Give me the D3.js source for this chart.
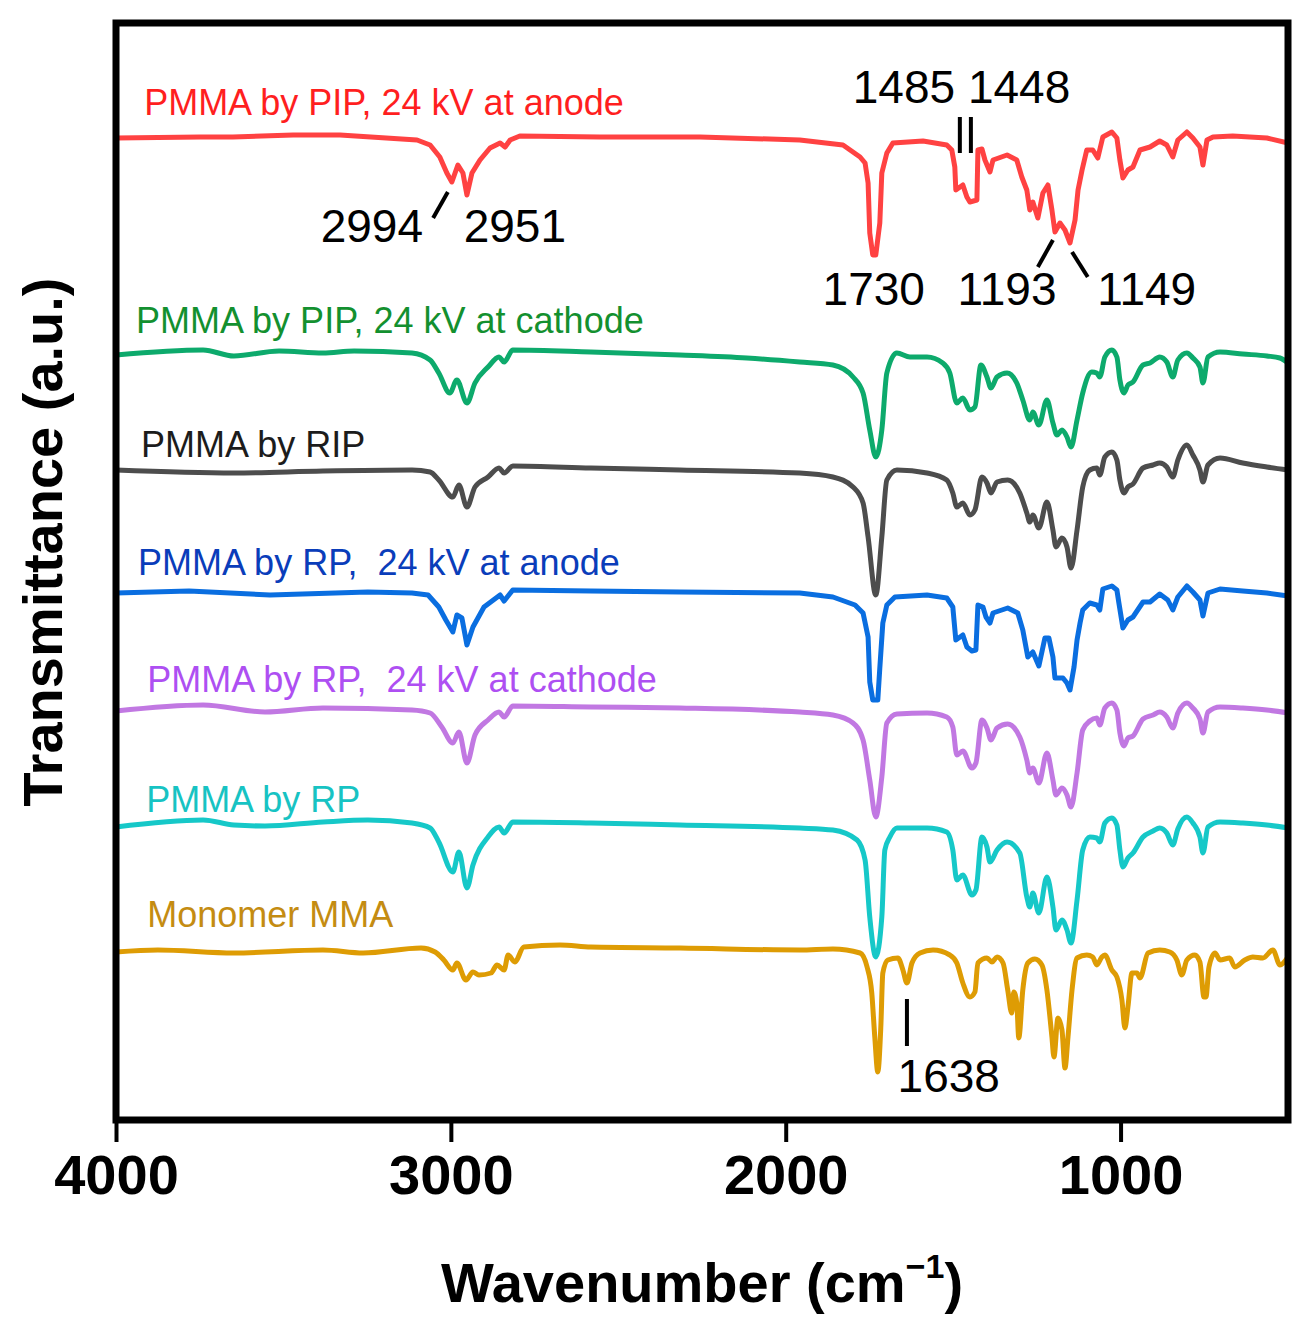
<!DOCTYPE html>
<html>
<head>
<meta charset="utf-8">
<script src="https://cdn.jsdelivr.net/npm/d3@7"></script>
<style>
  body { margin: 0; background: #fff; }
  svg { display: block; font-family: "Liberation Sans", Arial, sans-serif; }
</style>
</head>
<body>
<svg id="drawing_region"></svg>
<script>
// series names, top to bottom
const seriesLabels = [
    "PMMA by PIP, 24 kV at anode",
    "PMMA by PIP, 24 kV at cathode",
    "PMMA by RIP",
    "PMMA by RP,  24 kV at anode",
    "PMMA by RP,  24 kV at cathode",
    "PMMA by RP",
    "Monomer MMA"
];

// [wavenumber (cm-1), transmittance (a.u., offset per curve)]
const pipAnode = [[4000,98.2],[3749,98.3],[3651,98.3],[3471,98.5],[3331,98.5],[3101,98.0],[3062,97.5],[3033,96.3],[3012,94.7],[2997,93.8],[2979,95.5],[2964,94.7],[2952,92.5],[2937,94.7],[2913,96.0],[2883,97.2],[2853,97.7],[2838,97.3],[2823,98.0],[2794,98.4],[2555,98.3],[2256,98.3],[1958,98.0],[1829,97.5],[1778,96.3],[1763,95.7],[1754,93.7],[1749,88.7],[1740,86.5],[1731,86.5],[1719,89.7],[1713,94.7],[1698,96.7],[1680,97.7],[1590,97.9],[1519,97.5],[1504,97.0],[1495,95.3],[1492,93.0],[1471,93.5],[1459,92.3],[1450,91.8],[1429,92.0],[1426,97.0],[1414,97.1],[1405,96.0],[1390,94.8],[1381,96.0],[1339,96.5],[1310,96.0],[1295,94.3],[1280,93.0],[1271,91.0],[1262,91.8],[1247,90.2],[1232,92.7],[1217,93.5],[1205,91.0],[1196,88.8],[1181,89.7],[1166,89.0],[1151,87.7],[1136,90.0],[1127,93.0],[1115,95.0],[1101,97.0],[1083,97.0],[1068,96.2],[1053,98.3],[1026,98.8],[1011,98.2],[1002,96.0],[993,94.2],[978,95.0],[963,95.3],[942,97.0],[912,97.3],[883,97.9],[862,97.5],[844,96.3],[829,98.0],[802,98.8],[784,98.2],[763,97.3],[754,95.5],[742,98.0],[724,98.3],[665,98.4],[563,98.2],[500,97.7]];

const pipCathode = [[4000,76.5],[3740,77.0],[3648,76.4],[3513,76.9],[3382,76.7],[3289,76.9],[3116,76.7],[3062,76.0],[3036,74.7],[3003,72.7],[2982,74.0],[2952,71.7],[2928,73.7],[2889,75.3],[2856,76.3],[2841,75.8],[2815,77.0],[2582,76.8],[2316,76.5],[2116,76.2],[1958,75.8],[1859,75.5],[1799,74.3],[1769,72.7],[1749,69.0],[1731,66.3],[1713,69.0],[1698,74.7],[1668,76.7],[1629,76.3],[1578,76.3],[1531,75.7],[1510,74.7],[1489,71.7],[1471,72.2],[1450,71.0],[1435,71.3],[1417,75.5],[1399,74.3],[1387,73.2],[1369,74.3],[1339,74.7],[1310,73.7],[1292,72.0],[1271,70.0],[1262,70.8],[1244,69.5],[1220,72.0],[1202,69.7],[1190,68.5],[1175,69.0],[1160,68.3],[1148,67.3],[1130,70.0],[1113,72.7],[1086,74.8],[1071,74.7],[1062,74.3],[1047,76.3],[1026,77.0],[1011,76.3],[1002,74.0],[990,72.7],[978,73.5],[963,73.8],[933,75.5],[912,75.7],[883,76.3],[862,75.8],[844,74.3],[829,76.0],[802,76.7],[784,76.2],[763,75.3],[754,73.7],[739,76.3],[703,76.8],[635,76.6],[563,76.4],[524,76.2],[500,75.7]];

const rip = [[4000,65.0],[3648,64.7],[3382,64.9],[3116,65.0],[3062,64.8],[3036,64.0],[2994,62.3],[2976,63.5],[2952,61.3],[2928,63.3],[2889,64.3],[2856,65.2],[2841,64.7],[2815,65.4],[2582,65.2],[2316,65.0],[1958,64.7],[1859,64.3],[1799,63.3],[1769,61.7],[1754,58.3],[1731,52.5],[1713,58.3],[1698,64.0],[1668,65.0],[1578,64.7],[1519,64.0],[1501,62.7],[1489,61.3],[1471,61.7],[1450,60.5],[1435,61.0],[1414,64.3],[1399,63.7],[1387,62.7],[1369,63.8],[1337,64.0],[1301,62.7],[1280,60.7],[1271,59.8],[1262,60.5],[1244,59.2],[1220,61.8],[1202,59.0],[1193,57.3],[1175,58.2],[1160,57.3],[1148,55.2],[1130,59.0],[1113,63.3],[1092,65.0],[1071,65.2],[1062,64.5],[1047,66.3],[1026,66.8],[1011,66.0],[1002,64.0],[990,62.7],[978,63.3],[963,63.6],[933,65.2],[903,65.5],[883,65.7],[862,65.3],[844,64.3],[829,66.0],[802,67.5],[784,66.5],[763,65.0],[754,63.8],[739,65.5],[703,66.2],[635,65.7],[563,65.3],[500,65.0]];

const rpAnode = [[4000,52.7],[3782,52.9],[3540,52.5],[3248,52.8],[3116,52.7],[3068,52.5],[3036,51.3],[3015,50.0],[2994,48.8],[2982,50.5],[2967,50.2],[2952,47.5],[2934,49.3],[2901,51.3],[2853,52.5],[2841,51.9],[2815,53.0],[2582,52.9],[2316,52.8],[1958,52.7],[1859,52.3],[1793,51.5],[1769,50.7],[1754,48.3],[1749,43.8],[1740,42.0],[1725,42.0],[1719,45.2],[1710,49.7],[1698,51.5],[1674,52.3],[1578,52.5],[1519,52.2],[1501,51.3],[1492,48.0],[1471,48.5],[1459,47.3],[1444,46.9],[1432,47.0],[1426,51.5],[1411,51.3],[1402,50.3],[1390,49.7],[1381,50.7],[1337,51.2],[1307,50.7],[1292,49.0],[1277,46.3],[1262,46.8],[1244,45.4],[1226,48.2],[1214,48.2],[1202,46.3],[1196,44.2],[1172,44.2],[1160,43.7],[1151,43.0],[1139,45.3],[1130,48.0],[1121,49.7],[1113,51.0],[1092,51.7],[1071,51.5],[1062,51.0],[1053,53.1],[1026,53.4],[1011,53.0],[1005,51.7],[993,49.2],[978,50.0],[963,50.3],[933,51.8],[912,51.8],[883,52.6],[859,52.0],[844,51.0],[829,52.3],[802,53.4],[784,52.8],[763,52.0],[754,50.4],[739,52.7],[703,53.1],[635,52.9],[563,52.7],[500,52.4]];

const rpCathode = [[4000,40.9],[3740,41.5],[3555,40.8],[3382,41.2],[3116,41.0],[3062,40.7],[3027,39.3],[2994,37.7],[2976,38.8],[2952,35.7],[2928,38.5],[2889,40.0],[2856,40.8],[2841,40.3],[2815,41.4],[2582,41.3],[2316,41.2],[1958,40.8],[1859,40.5],[1799,39.7],[1769,38.0],[1749,34.0],[1731,30.3],[1713,34.3],[1698,39.7],[1668,40.6],[1578,40.7],[1519,40.3],[1501,39.3],[1489,36.5],[1471,36.9],[1444,35.2],[1432,35.7],[1414,40.0],[1399,39.2],[1387,38.0],[1369,39.2],[1337,39.6],[1301,38.3],[1280,36.0],[1271,34.7],[1262,35.2],[1244,33.7],[1220,36.7],[1202,34.0],[1193,32.5],[1175,33.2],[1160,32.5],[1148,31.3],[1130,34.7],[1113,39.0],[1092,39.9],[1071,40.2],[1062,39.5],[1047,41.2],[1026,41.7],[1011,41.0],[1002,38.7],[990,37.4],[978,38.2],[963,38.4],[933,40.1],[903,40.5],[883,40.8],[862,40.3],[844,39.2],[829,40.7],[802,41.7],[784,41.2],[763,40.1],[754,38.7],[739,40.8],[703,41.3],[635,41.2],[563,41.0],[500,40.7]];

const rp = [[4000,29.3],[3740,30.0],[3648,29.5],[3555,29.4],[3382,29.8],[3248,30.0],[3116,29.7],[3062,29.2],[3036,27.8],[2994,24.8],[2976,26.8],[2952,23.2],[2934,25.5],[2889,28.3],[2856,29.3],[2841,28.7],[2815,29.8],[2582,29.7],[2316,29.5],[1958,29.2],[1859,29.0],[1787,28.0],[1763,26.0],[1749,20.3],[1731,16.3],[1713,20.3],[1704,27.0],[1689,28.3],[1668,29.2],[1578,29.2],[1519,28.8],[1501,27.0],[1489,24.0],[1471,24.5],[1444,22.5],[1432,23.0],[1414,28.3],[1399,27.3],[1390,25.8],[1369,27.0],[1339,27.8],[1301,26.7],[1280,22.3],[1271,21.3],[1262,22.7],[1244,20.7],[1220,24.3],[1202,21.3],[1193,19.0],[1175,20.0],[1160,19.0],[1148,17.7],[1130,22.0],[1113,27.0],[1092,28.3],[1071,28.2],[1062,27.8],[1047,29.7],[1026,30.2],[1011,29.5],[1002,27.0],[993,25.3],[978,26.2],[963,26.7],[933,28.3],[903,28.9],[883,29.2],[862,28.7],[844,27.5],[829,29.1],[802,30.3],[784,29.7],[763,28.3],[754,26.7],[739,29.3],[703,29.8],[635,29.7],[563,29.5],[500,29.2]];

const monomer = [[4000,16.8],[3875,17.0],[3648,16.7],[3382,17.0],[3262,16.7],[3089,17.2],[3047,16.8],[3021,16.0],[2994,15.0],[2982,15.7],[2955,14.0],[2934,14.8],[2916,14.5],[2880,14.7],[2862,15.5],[2841,15.0],[2829,16.5],[2809,15.8],[2782,17.3],[2674,17.5],[2582,17.3],[2316,17.2],[1958,17.0],[1859,17.1],[1778,16.7],[1757,15.3],[1743,12.7],[1734,8.3],[1725,4.8],[1716,9.3],[1710,14.7],[1695,16.0],[1665,16.2],[1650,15.0],[1638,13.7],[1623,15.7],[1599,16.7],[1560,17.0],[1510,16.5],[1489,15.7],[1471,13.7],[1450,12.3],[1435,12.8],[1426,15.7],[1399,16.2],[1384,15.8],[1369,16.3],[1351,15.7],[1337,13.0],[1325,10.7],[1319,12.8],[1310,11.7],[1304,8.2],[1292,13.0],[1277,15.7],[1256,16.1],[1235,15.5],[1220,13.0],[1205,8.3],[1199,6.3],[1187,10.2],[1175,9.0],[1166,5.2],[1157,8.3],[1145,13.0],[1130,16.2],[1101,16.5],[1083,16.3],[1071,15.5],[1056,16.3],[1047,16.5],[1026,15.0],[1011,14.3],[996,12.0],[987,9.2],[978,11.3],[966,14.7],[951,14.7],[942,14.2],[918,16.7],[883,17.0],[853,16.8],[832,16.0],[817,14.5],[802,16.0],[778,16.5],[763,15.8],[751,12.3],[745,12.3],[736,15.3],[718,16.7],[703,16.0],[674,16.2],[659,15.3],[629,16.0],[605,16.3],[575,16.2],[545,17.0],[524,15.5],[500,16.3]];

const xTicks = [4000, 3000, 2000, 1000];

// peak labels: text, wavenumber and level of the label baseline
const peakTexts = ["2994", "2951", "1730", "1485 1448", "1193", "1149", "1638"];
const peakTextWn = [3236, 2809, 1737, 1475, 1339, 922, 1513];
const peakTextT = [87.8, 87.8, 81.5, 101.7, 81.5, 81.5, 2.8];

// leader lines [[wn, t], [wn, t]]
const peakMarks = [
    [[3009, 92.8], [3053, 90.2]],
    [[1480, 100.3], [1480, 96.7]],
    [[1447, 100.3], [1447, 96.7]],
    [[1202, 88.0], [1247, 85.3]],
    [[1145, 86.8], [1098, 84.3]],
    [[1638, 12.1], [1638, 7.4]]
];

const allSeries = [pipAnode, pipCathode, rip, rpAnode, rpCathode, rp, monomer];

var config = {
    parent: '#drawing_region',
    width: 1316,
    height: 1342,
    margin: {left: 116, right: 28, top: 23, bottom: 222},
    lineColors: ['#ff4242', '#0daa6c', '#4d4d4d', '#0a6ee0', '#c178e2', '#16c8c8', '#de9c04'],
    labelColors: ['#ff1f1f', '#13902f', '#1c1c1c', '#0a3dba', '#ae4ff2', '#17c3c3', '#c48c12'],
    jagged: [true, false, false, true, false, false, false],
    labelWn: [3916, 3940, 3925, 3934, 3907, 3910, 3907],
    labelT: [100.5, 78.7, 66.3, 54.5, 42.8, 30.8, 19.3]
};

class SpectraChart {

    constructor( config ) {
        this.config = config;
        this.init();
    }

    init() {
        let self = this;
        let m = self.config.margin;

        self.svg = d3.select( self.config.parent )
            .attr('width', self.config.width)
            .attr('height', self.config.height);

        self.inner_width = self.config.width - m.left - m.right;
        self.inner_height = self.config.height - m.top - m.bottom;

        self.xscale = d3.scaleLinear()
            .domain([4000, 500])
            .range([m.left, m.left + self.inner_width]);

        self.yscale = d3.scaleLinear()
            .domain([0, 109.7])
            .range([m.top + self.inner_height, m.top]);

        self.xaxis = d3.axisBottom( self.xscale )
            .tickValues(xTicks)
            .tickSize(22)
            .tickSizeOuter(0)
            .tickPadding(12)
            .tickFormat(d3.format('d'));
    }

    update() {
        let self = this;
        self.render();
    }

    render() {
        let self = this;
        let m = self.config.margin;

        // spectra
        allSeries.forEach( (data, i) => {
            let line = d3.line()
                .x( d => self.xscale(d[0]) )
                .y( d => self.yscale(d[1]) )
                .curve( self.config.jagged[i] ? d3.curveLinear : d3.curveMonotoneX );

            self.svg.append('path')
                .datum(data)
                .attr('d', line)
                .attr('fill', 'none')
                .attr('stroke', self.config.lineColors[i])
                .attr('stroke-width', 5)
                .attr('stroke-linejoin', 'round');

            self.svg.append('text')
                .attr('x', self.xscale(self.config.labelWn[i]))
                .attr('y', self.yscale(self.config.labelT[i]))
                .attr('fill', self.config.labelColors[i])
                .attr('font-size', 36)
                .style('white-space', 'pre')
                .text(seriesLabels[i]);
        });

        // peak annotations
        self.svg.selectAll('.mark')
            .data(peakMarks)
            .enter()
            .append('line')
            .attr('x1', d => self.xscale(d[0][0]))
            .attr('y1', d => self.yscale(d[0][1]))
            .attr('x2', d => self.xscale(d[1][0]))
            .attr('y2', d => self.yscale(d[1][1]))
            .attr('stroke', 'black')
            .attr('stroke-width', 4);

        self.svg.selectAll('.peak')
            .data(peakTexts)
            .enter()
            .append('text')
            .attr('x', (d, i) => self.xscale(peakTextWn[i]))
            .attr('y', (d, i) => self.yscale(peakTextT[i]))
            .attr('text-anchor', 'middle')
            .attr('font-size', 46)
            .attr('fill', 'black')
            .text(d => d);

        // frame
        self.svg.append('rect')
            .attr('x', m.left)
            .attr('y', m.top)
            .attr('width', self.inner_width)
            .attr('height', self.inner_height)
            .attr('fill', 'none')
            .attr('stroke', 'black')
            .attr('stroke-width', 7);

        let xg = self.svg.append('g')
            .attr('transform', `translate(0, ${m.top + self.inner_height})`)
            .call(self.xaxis);
        xg.select('.domain').remove();
        xg.selectAll('.tick line')
            .attr('stroke', 'black')
            .attr('stroke-width', 4);
        xg.selectAll('.tick text')
            .attr('fill', 'black')
            .attr('font-size', 56)
            .attr('font-weight', 'bold')
            .attr('font-family', '"Liberation Sans", Arial, sans-serif');

        // axis titles
        let xt = self.svg.append('text')
            .attr('x', m.left + self.inner_width / 2)
            .attr('y', 1302)
            .attr('text-anchor', 'middle')
            .attr('font-size', 56)
            .attr('font-weight', 'bold');
        xt.append('tspan').text('Wavenumber (cm');
        xt.append('tspan').attr('font-size', 34).attr('dy', -24).text('\u22121');
        xt.append('tspan').attr('dy', 24).text(')');

        self.svg.append('text')
            .attr('transform', 'translate(62, 542) rotate(-90)')
            .attr('text-anchor', 'middle')
            .attr('font-size', 56)
            .attr('font-weight', 'bold')
            .text('Transmittance (a.u.)');
    }
}

const chart = new SpectraChart( config );
chart.update();
</script>
</body>
</html>
